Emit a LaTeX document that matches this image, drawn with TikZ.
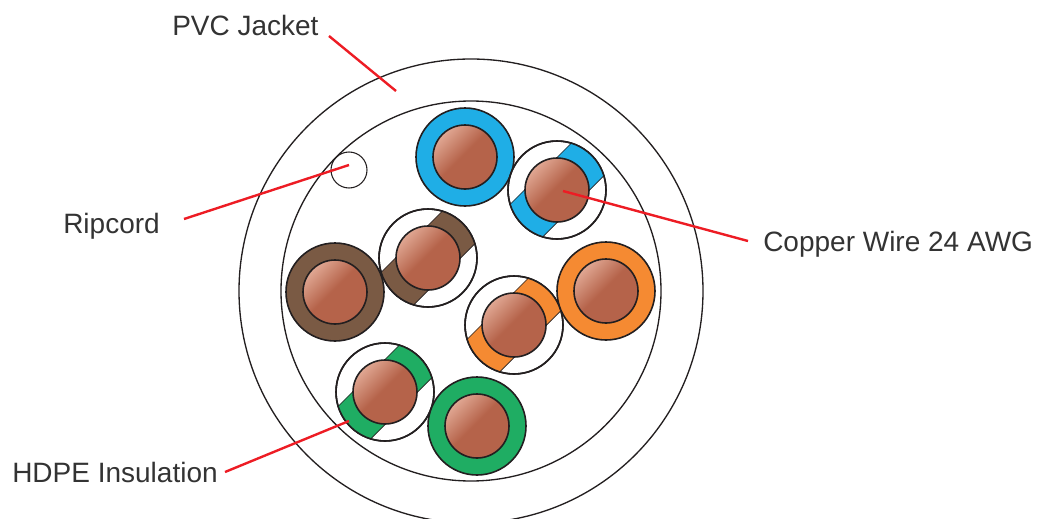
\documentclass[tikz,border=0pt]{standalone}
\usepackage{fontspec}
\setmainfont{Liberation Sans}
\definecolor{inkc}{HTML}{231F20}
\definecolor{redc}{HTML}{ED1C24}
\definecolor{copperlight}{HTML}{EDBCA9}
\definecolor{copperdark}{HTML}{B5634A}
\definecolor{bluec}{HTML}{1FAEE6}
\definecolor{brownc}{HTML}{7A5A44}
\definecolor{orangec}{HTML}{F58A32}
\definecolor{greenc}{HTML}{1FAD63}
\pgfdeclareverticalshading{coppershade}{100bp}{color(0bp)=(copperdark); color(52bp)=(copperdark); color(82bp)=(copperlight); color(100bp)=(copperlight)}
\newdimen\pxu \pxu=0.75pt
\tikzset{
  ring/.style={draw=inkc,line width=1.1pt},
  jacket/.style={draw=inkc,line width=1pt},
  callout/.style={draw=redc,line width=1.8pt},
  labeltext/.style={font=\fontsize{21}{25}\selectfont,text=black!80,inner sep=0pt,anchor=base west},
  core/.style={circle,draw=inkc,line width=1.2pt,minimum size=64\pxu,inner sep=0pt,shading=coppershade,shading angle=45},
  wire/.style={circle,draw=inkc,line width=1.2pt,minimum size=98\pxu,inner sep=0pt},
}
\newcommand{\solidwire}[4]{% name, x, y, colour
  \node[wire,fill=#4] (#1) at (#2,#3) {};
  \node[core] (#1c) at (#1) {};
}
\newcommand{\stripewire}[4]{% name, x, y, colour
  \node[wire,fill=white] (#1) at (#2,#3) {};
  \begin{scope}
    \clip (#1) circle (49);
    \fill[#4,draw=inkc,line width=0.5pt] (#2,#3) ++(45:23) ++(-45:60) -- ++(-135:46) -- ++(135:120) -- ++(45:46) -- cycle;
  \end{scope}
  \node[wire] at (#1) {};
  \node[core] (#1c) at (#1) {};
}
\begin{document}
\begin{tikzpicture}[x=0.75pt,y=-0.75pt]
\useasboundingbox (0,0) rectangle (1038,518);
\begin{scope}
\clip (0,0) rectangle (1038,518);
\node[circle,jacket,minimum size=464\pxu,inner sep=0pt] (outer) at (471,291) {};
\end{scope}
\node[circle,jacket,minimum size=380\pxu,inner sep=0pt] (inner) at (471,291) {};
\node[circle,draw=inkc,line width=0.8pt,minimum size=36\pxu,inner sep=0pt] (ripcord) at (349,170) {};
\solidwire{bs}{465}{157}{bluec}
\stripewire{bt}{557}{190}{bluec}
\stripewire{nt}{428}{258}{brownc}
\solidwire{ns}{335}{292}{brownc}
\stripewire{ot}{514}{325}{orangec}
\solidwire{os}{606}{291}{orangec}
\stripewire{gt}{385}{392}{greenc}
\solidwire{gs}{477}{426}{greenc}

\node[labeltext] (pvc) at (172,35) {PVC Jacket};
\node[labeltext] (rip) at (63,233) {Ripcord};
\node[labeltext] (cu) at (763,251) {Copper Wire 24 AWG};
\node[labeltext] (hdpe) at (12,482) {HDPE Insulation};

\coordinate (pvcs) at (329,36);
\coordinate (pvce) at (396,91);
\coordinate (rips) at (184,219);
\coordinate (ripe) at (349,165);
\coordinate (cus) at (748,241);
\coordinate (cue) at (563,191);
\coordinate (hdpes) at (225,472);
\coordinate (hdpee) at (349,421);
\draw[callout] (pvcs) -- (pvce);
\draw[callout] (rips) -- (ripe);
\draw[callout] (cus) -- (cue);
\draw[callout] (hdpes) -- (hdpee);
\end{tikzpicture}
\end{document}
